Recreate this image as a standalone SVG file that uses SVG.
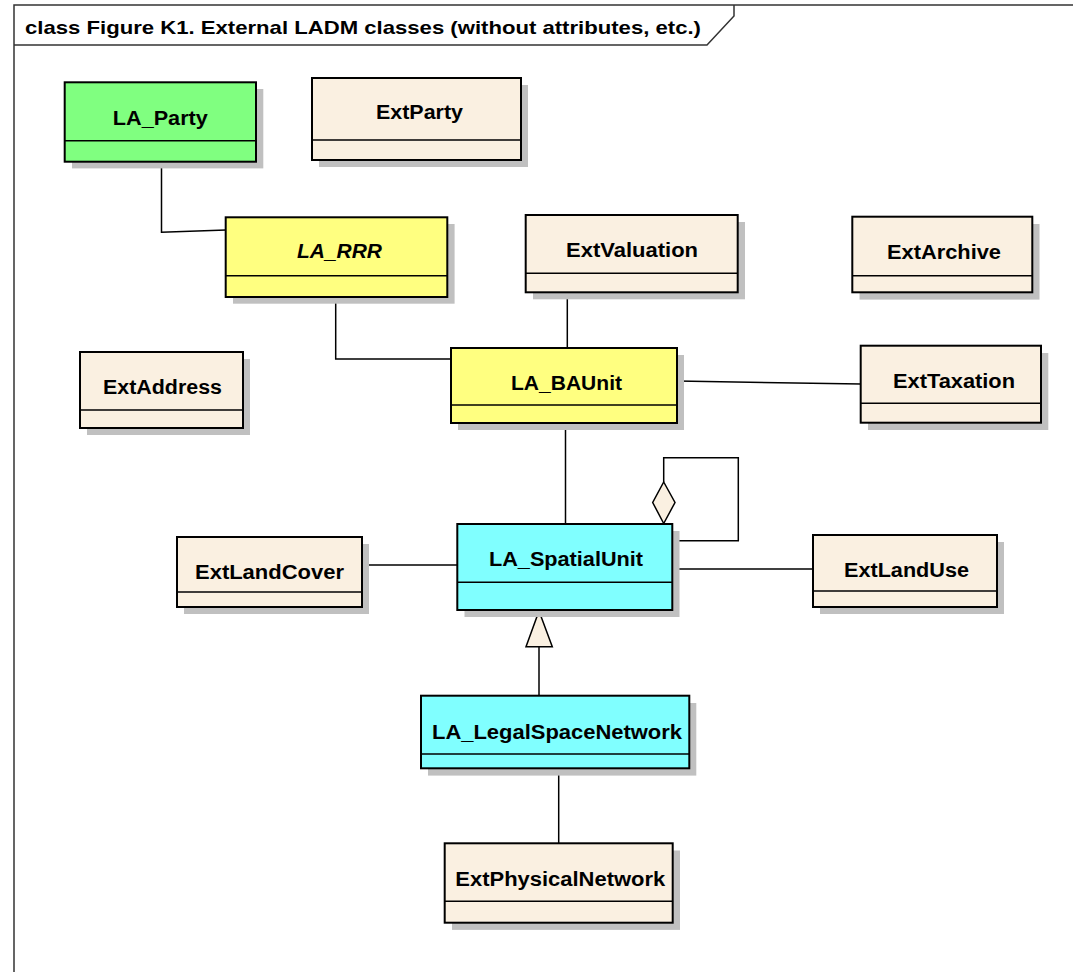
<svg xmlns="http://www.w3.org/2000/svg" width="1073" height="972" viewBox="0 0 1073 972">
  <style>
    .frame { fill: none; stroke: #333; stroke-width: 1.5; }
    .shadow { fill: #c0c0c0; }
    .box { stroke: #000; stroke-width: 2; }
    .div { stroke: #000; stroke-width: 1.5; }
    .ext { fill: #faf0e1; }
    .yel { fill: #ffff80; }
    .grn { fill: #80ff80; }
    .cyn { fill: #80ffff; }
    .lbl { font-family: "Liberation Sans", Arial, sans-serif; font-weight: bold; font-size: 20px; fill: #000; text-anchor: middle; }
    .it { font-style: italic; }
    .title { font-family: "Liberation Sans", Arial, sans-serif; font-weight: bold; font-size: 19px; fill: #000; }
    .conn { fill: none; stroke: #000; stroke-width: 1.5; }
    .head { fill: #faf0e1; stroke: #000; stroke-width: 1.5; }
  </style>

  <rect width="1073" height="972" fill="#fff"/>

  <!-- diagram frame with name tab -->
  <g id="frame">
    <path class="frame" d="M14,972 V5 H1073"/>
    <path class="frame" d="M14,45 H707 L734,16 V5"/>
    <text class="title" x="25" y="34" textLength="676" lengthAdjust="spacingAndGlyphs">class Figure K1. External LADM classes (without attributes, etc.)</text>
  </g>

  <!-- associations -->
  <g id="connectors">
    <polyline class="conn" points="161.5,162 161.5,232.3 226,230"/>
    <polyline class="conn" points="335.7,297 335.7,359 451,359"/>
    <line class="conn" x1="567.3" y1="292.3" x2="567.3" y2="348"/>
    <line class="conn" x1="677" y1="381" x2="861" y2="384"/>
    <line class="conn" x1="565.5" y1="423" x2="565.5" y2="524"/>
    <polyline class="conn" points="663.7,482 663.7,457.7 738.3,457.7 738.3,540.7 672.3,540.7"/>
    <polygon class="head" points="663.7,482 675,502.5 663.7,523.5 652.7,502.5"/>
    <line class="conn" x1="362" y1="565" x2="457.3" y2="565"/>
    <line class="conn" x1="672.3" y1="569" x2="813" y2="569"/>
    <line class="conn" x1="539" y1="646.7" x2="539" y2="695.7"/>
    <polygon class="head" points="539,611 552.3,646.7 526,646.7"/>
    <line class="conn" x1="558.7" y1="768.3" x2="558.7" y2="843.3"/>
  </g>

  <g id="LA_Party">
    <rect class="shadow" x="72" y="89" width="191.3" height="79.4"/>
    <rect class="box grn" x="64.7" y="82.3" width="191.3" height="79.4"/>
    <line class="div" x1="64.7" y1="140.7" x2="256" y2="140.7"/>
    <text class="lbl" x="160.3" y="124.5" textLength="95" lengthAdjust="spacingAndGlyphs">LA_Party</text>
  </g>

  <g id="ExtParty">
    <rect class="shadow" x="319" y="85" width="209" height="82"/>
    <rect class="box ext" x="312" y="78" width="209" height="82"/>
    <line class="div" x1="312" y1="140" x2="521" y2="140"/>
    <text class="lbl" x="419.5" y="119" textLength="87" lengthAdjust="spacingAndGlyphs">ExtParty</text>
  </g>

  <g id="LA_RRR">
    <rect class="shadow" x="233" y="224" width="221.6" height="79.7"/>
    <rect class="box yel" x="225.7" y="217.3" width="221.6" height="79.7"/>
    <line class="div" x1="225.7" y1="275.7" x2="447.3" y2="275.7"/>
    <text class="lbl it" x="339.5" y="257.5" textLength="85" lengthAdjust="spacingAndGlyphs">LA_RRR</text>
  </g>

  <g id="ExtValuation">
    <rect class="shadow" x="533" y="222" width="212" height="77.3"/>
    <rect class="box ext" x="525.7" y="215" width="212" height="77.3"/>
    <line class="div" x1="525.7" y1="273.3" x2="737.7" y2="273.3"/>
    <text class="lbl" x="632" y="257" textLength="132" lengthAdjust="spacingAndGlyphs">ExtValuation</text>
  </g>

  <g id="ExtArchive">
    <rect class="shadow" x="859.5" y="224" width="180" height="75.6"/>
    <rect class="box ext" x="852.3" y="216.7" width="180" height="75.6"/>
    <line class="div" x1="852.3" y1="275.7" x2="1032.3" y2="275.7"/>
    <text class="lbl" x="944" y="259" textLength="114" lengthAdjust="spacingAndGlyphs">ExtArchive</text>
  </g>

  <g id="ExtAddress">
    <rect class="shadow" x="87" y="359" width="163" height="76"/>
    <rect class="box ext" x="80" y="352" width="163" height="76"/>
    <line class="div" x1="80" y1="410" x2="243" y2="410"/>
    <text class="lbl" x="162.5" y="393.5" textLength="119" lengthAdjust="spacingAndGlyphs">ExtAddress</text>
  </g>

  <g id="LA_BAUnit">
    <rect class="shadow" x="458" y="355" width="226" height="75"/>
    <rect class="box yel" x="451" y="348" width="226" height="75"/>
    <line class="div" x1="451" y1="405" x2="677" y2="405"/>
    <text class="lbl" x="566.5" y="390" textLength="111" lengthAdjust="spacingAndGlyphs">LA_BAUnit</text>
  </g>

  <g id="ExtTaxation">
    <rect class="shadow" x="868" y="353" width="180.3" height="77"/>
    <rect class="box ext" x="860.7" y="345.7" width="180.3" height="77"/>
    <line class="div" x1="860.7" y1="403.3" x2="1041" y2="403.3"/>
    <text class="lbl" x="954" y="387.5" textLength="122" lengthAdjust="spacingAndGlyphs">ExtTaxation</text>
  </g>

  <g id="LA_SpatialUnit">
    <rect class="shadow" x="464.5" y="531" width="215" height="86"/>
    <rect class="box cyn" x="457.3" y="524" width="215" height="86"/>
    <line class="div" x1="457.3" y1="582.3" x2="672.3" y2="582.3"/>
    <text class="lbl" x="566" y="566" textLength="154" lengthAdjust="spacingAndGlyphs">LA_SpatialUnit</text>
  </g>

  <g id="ExtLandCover">
    <rect class="shadow" x="184" y="544" width="185" height="70"/>
    <rect class="box ext" x="177" y="537" width="185" height="70"/>
    <line class="div" x1="177" y1="592" x2="362" y2="592"/>
    <text class="lbl" x="269.5" y="579" textLength="149" lengthAdjust="spacingAndGlyphs">ExtLandCover</text>
  </g>

  <g id="ExtLandUse">
    <rect class="shadow" x="820" y="542" width="184" height="72"/>
    <rect class="box ext" x="813" y="535" width="184" height="72"/>
    <line class="div" x1="813" y1="591" x2="997" y2="591"/>
    <text class="lbl" x="906.5" y="577" textLength="125" lengthAdjust="spacingAndGlyphs">ExtLandUse</text>
  </g>

  <g id="LA_LegalSpaceNetwork">
    <rect class="shadow" x="428" y="703" width="268.3" height="72.6"/>
    <rect class="box cyn" x="421" y="695.7" width="268.3" height="72.6"/>
    <line class="div" x1="421" y1="754" x2="689.3" y2="754"/>
    <text class="lbl" x="557" y="739" textLength="250" lengthAdjust="spacingAndGlyphs">LA_LegalSpaceNetwork</text>
  </g>

  <g id="ExtPhysicalNetwork">
    <rect class="shadow" x="452" y="850.5" width="228" height="79.4"/>
    <rect class="box ext" x="444.7" y="843.3" width="228" height="79.4"/>
    <line class="div" x1="444.7" y1="901.3" x2="672.7" y2="901.3"/>
    <text class="lbl" x="560.3" y="886" textLength="210" lengthAdjust="spacingAndGlyphs">ExtPhysicalNetwork</text>
  </g>
</svg>
